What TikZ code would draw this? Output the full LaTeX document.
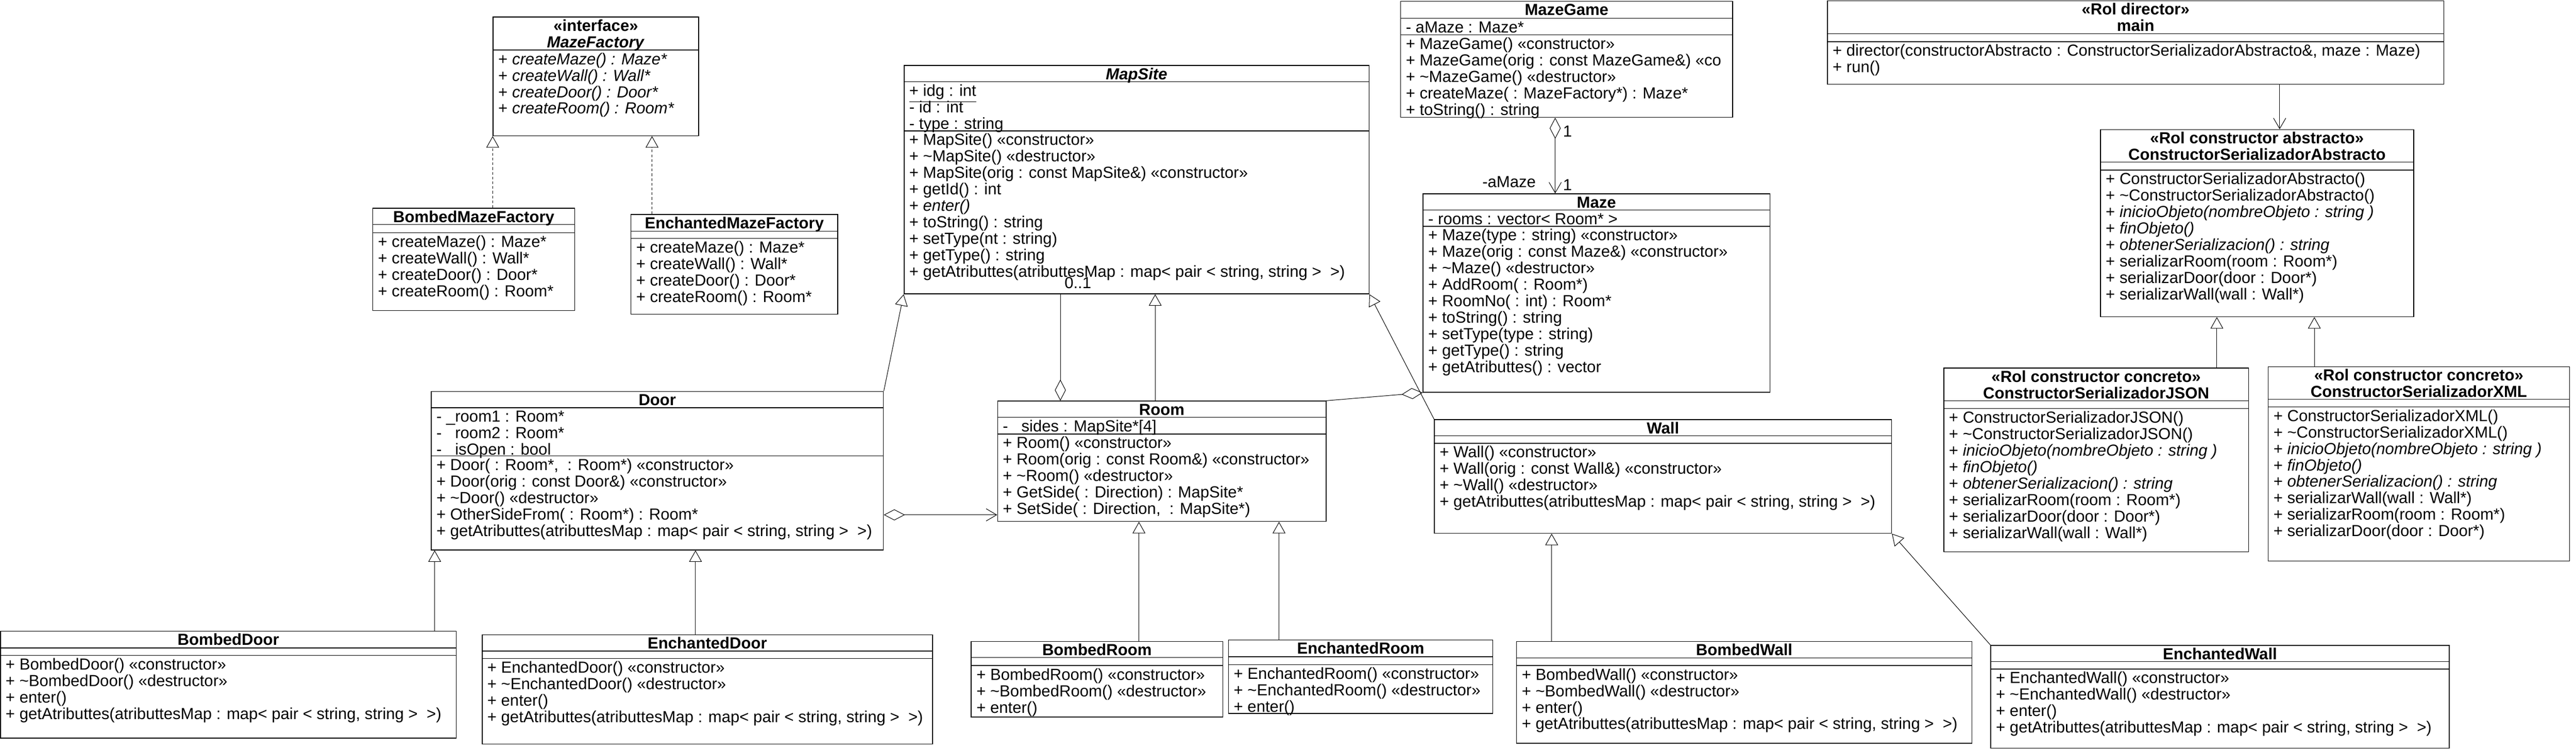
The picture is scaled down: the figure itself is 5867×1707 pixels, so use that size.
\documentclass[tikz,border=0pt]{standalone}
\usepackage{fontspec}
\setmainfont{Liberation Sans}
\usepackage{tikz}
\usetikzlibrary{arrows.meta, fit}
\newcommand{\umlfont}{\fontsize{9.125pt}{9.375pt}\selectfont\lineskiplimit=-\maxdimen}
\newcommand{\rowstrut}{\rule{0pt}{8pt}}

\begin{document}
\begin{tikzpicture}[x=0.25pt, y=-0.25pt, font=\umlfont,
  classbox/.style={draw, line width=0.45pt, inner sep=0pt},
  head/.style={anchor=north, inner sep=0pt, align=center, font=\umlfont\bfseries},
  rows/.style={anchor=north west, inner sep=0pt, xshift=3pt, align=left},
  gen/.style={line width=0.3pt, -{Triangle[open, length=6.5pt, width=7.25pt]}},
  real/.style={gen, dash pattern=on 1.5pt off 1.2pt},
  assoc/.style={line width=0.3pt, {Diamond[open, length=12pt, width=6.25pt]}-{Straight Barb[length=6pt, width=7pt]}},
  aggr/.style={line width=0.3pt, {Diamond[open, length=12pt, width=6.25pt]}-},
  nav/.style={line width=0.3pt, -{Straight Barb[length=6pt, width=7pt]}}]
  \path[use as bounding box, fill=white] (0,0) rectangle (5867,1707);

  % Abstract factory
  \node[classbox, fit={(1123,39) (1591,309)}] (mf) {};
  \draw (mf.west |- 0,114) -- (mf.east |- 0,114);
  \node[head] (mfT) at (mf.north) {\rowstrut«interface»\\\textit{MazeFactory}};
  \node[rows] (mfM) at (mf.west |- 0,114) {\rowstrut+ \textit{createMaze() : Maze*}\\+ \textit{createWall() : Wall*}\\+ \textit{createDoor() : Door*}\\+ \textit{createRoom() : Room*}};

  \node[classbox, fit={(849,474) (1309,707)}] (bmf) {};
  \draw (bmf.west |- 0,511) -- (bmf.east |- 0,511) (bmf.west |- 0,530) -- (bmf.east |- 0,530);
  \node[head] (bmfT) at (bmf.north) {\rowstrut BombedMazeFactory};
  \node[rows] (bmfM) at (bmf.west |- 0,530) {\rowstrut+ createMaze() : Maze*\\+ createWall() : Wall*\\+ createDoor() : Door*\\+ createRoom() : Room*};

  \node[classbox, fit={(1437,488) (1908,715)}] (emf) {};
  \draw (emf.west |- 0,526) -- (emf.east |- 0,526) (emf.west |- 0,543) -- (emf.east |- 0,543);
  \node[head] (emfT) at (emf.north) {\rowstrut EnchantedMazeFactory};
  \node[rows] (emfM) at (emf.west |- 0,543) {\rowstrut+ createMaze() : Maze*\\+ createWall() : Wall*\\+ createDoor() : Door*\\+ createRoom() : Room*};

  % MapSite
  \node[classbox, fit={(2059,149) (3118,669)}] (ms) {};
  \draw (ms.west |- 0,186) -- (ms.east |- 0,186) (ms.west |- 0,298) -- (ms.east |- 0,298);
  \node[head] (msT) at (ms.north) {\rowstrut\textit{MapSite}};
  \node[rows] (msA) at (ms.west |- 0,186) {\rowstrut\underline{+ idg : int}\\- id : int\\- type : string};
  \node[rows] (msM) at (ms.west |- 0,298) {\rowstrut+ MapSite() «constructor»\\+ \textasciitilde MapSite() «destructor»\\+ MapSite(orig : const MapSite\&) «constructor»\\+ getId() : int\\+ \textit{enter()}\\+ toString() : string\\+ setType(nt : string)\\+ getType() : string\\+ getAtributtes(atributtesMap : map< pair < string, string >\ \ >)};

  % MazeGame and Maze
  \node[classbox, fit={(3190,3) (3946,267)}] (mg) {};
  \draw (mg.west |- 0,42) -- (mg.east |- 0,42) (mg.west |- 0,79) -- (mg.east |- 0,79);
  \node[head] (mgT) at (mg.north) {\rowstrut MazeGame};
  \node[rows] (mgA) at (mg.west |- 0,42) {\rowstrut- aMaze : Maze*};
  \node[rows] (mgM) at (mg.west |- 0,79) {\rowstrut+ MazeGame() «constructor»\\+ MazeGame(orig : const MazeGame\&) «co\\+ \textasciitilde MazeGame() «destructor»\\+ createMaze( : MazeFactory*) : Maze*\\+ toString() : string};

  \node[classbox, fit={(3241,441) (4031,893)}] (mz) {};
  \draw (mz.west |- 0,478) -- (mz.east |- 0,478) (mz.west |- 0,515) -- (mz.east |- 0,515);
  \node[head] (mzT) at (mz.north) {\rowstrut Maze};
  \node[rows] (mzA) at (mz.west |- 0,478) {\rowstrut- rooms : vector< Room* >};
  \node[rows] (mzM) at (mz.west |- 0,515) {\rowstrut+ Maze(type : string) «constructor»\\+ Maze(orig : const Maze\&) «constructor»\\+ \textasciitilde Maze() «destructor»\\+ AddRoom( : Room*)\\+ RoomNo( : int) : Room*\\+ toString() : string\\+ setType(type : string)\\+ getType() : string\\+ getAtributtes() : vector};

  % Builder
  \node[classbox, fit={(4162,2) (5566,192)}] (dir) {};
  \draw (dir.west |- 0,77) -- (dir.east |- 0,77) (dir.west |- 0,95) -- (dir.east |- 0,95);
  \node[head] (dirT) at (dir.north) {\rowstrut«Rol director»\\main};
  \node[rows] (dirM) at (dir.west |- 0,95) {\rowstrut+ director(constructorAbstracto : ConstructorSerializadorAbstracto\&, maze : Maze)\\+ run()};

  \node[classbox, fit={(4784,295) (5497,721)}] (csa) {};
  \draw (csa.west |- 0,369) -- (csa.east |- 0,369) (csa.west |- 0,387) -- (csa.east |- 0,387);
  \node[head] (csaT) at (csa.north) {\rowstrut«Rol constructor abstracto»\\ConstructorSerializadorAbstracto};
  \node[rows] (csaM) at (csa.west |- 0,387) {\rowstrut+ ConstructorSerializadorAbstracto()\\+ \textasciitilde ConstructorSerializadorAbstracto()\\+ \textit{inicioObjeto(nombreObjeto : string )}\\+ \textit{finObjeto()}\\+ \textit{obtenerSerializacion() : string}\\+ serializarRoom(room : Room*)\\+ serializarDoor(door : Door*)\\+ serializarWall(wall : Wall*)};

  \node[classbox, fit={(4427,838) (5121,1256)}] (csj) {};
  \draw (csj.west |- 0,912) -- (csj.east |- 0,912) (csj.west |- 0,930) -- (csj.east |- 0,930);
  \node[head] (csjT) at (csj.north) {\rowstrut«Rol constructor concreto»\\ConstructorSerializadorJSON};
  \node[rows] (csjM) at (csj.west |- 0,930) {\rowstrut+ ConstructorSerializadorJSON()\\+ \textasciitilde ConstructorSerializadorJSON()\\+ \textit{inicioObjeto(nombreObjeto : string )}\\+ \textit{finObjeto()}\\+ \textit{obtenerSerializacion() : string}\\+ serializarRoom(room : Room*)\\+ serializarDoor(door : Door*)\\+ serializarWall(wall : Wall*)};

  \node[classbox, fit={(5166,835) (5852,1277)}] (csx) {};
  \draw (csx.west |- 0,909) -- (csx.east |- 0,909) (csx.west |- 0,926) -- (csx.east |- 0,926);
  \node[head] (csxT) at (csx.north) {\rowstrut«Rol constructor concreto»\\ConstructorSerializadorXML};
  \node[rows] (csxM) at (csx.west |- 0,926) {\rowstrut+ ConstructorSerializadorXML()\\+ \textasciitilde ConstructorSerializadorXML()\\+ \textit{inicioObjeto(nombreObjeto : string )}\\+ \textit{finObjeto()}\\+ \textit{obtenerSerializacion() : string}\\+ serializarWall(wall : Wall*)\\+ serializarRoom(room : Room*)\\+ serializarDoor(door : Door*)};

  % Door, Room, Wall
  \node[classbox, fit={(982,891) (2012,1252)}] (door) {};
  \draw (door.west |- 0,928) -- (door.east |- 0,928) (door.west |- 0,1038) -- (door.east |- 0,1038);
  \node[head] (doorT) at (door.north) {\rowstrut Door};
  \node[rows] (doorA) at (door.west |- 0,928) {\rowstrut- \_room1 : Room*\\-\ \ \ room2 : Room*\\-\ \ \ isOpen : bool};
  \node[rows] (doorM) at (door.west |- 0,1038) {\rowstrut+ Door( : Room*,\ \ : Room*) «constructor»\\+ Door(orig : const Door\&) «constructor»\\+ \textasciitilde Door() «destructor»\\+ OtherSideFrom( : Room*) : Room*\\+ getAtributtes(atributtesMap : map< pair < string, string >\ \ >)};

  \node[classbox, fit={(2272,913) (3020,1187)}] (room) {};
  \draw (room.west |- 0,950) -- (room.east |- 0,950) (room.west |- 0,988) -- (room.east |- 0,988);
  \node[head] (roomT) at (room.north) {\rowstrut Room};
  \node[rows] (roomA) at (room.west |- 0,950) {\rowstrut-\ \ \ sides : MapSite*[4]};
  \node[rows] (roomM) at (room.west |- 0,988) {\rowstrut+ Room() «constructor»\\+ Room(orig : const Room\&) «constructor»\\+ \textasciitilde Room() «destructor»\\+ GetSide( : Direction) : MapSite*\\+ SetSide( : Direction,\ \ : MapSite*)};

  \node[classbox, fit={(3267,955) (4308,1214)}] (wall) {};
  \draw (wall.west |- 0,992) -- (wall.east |- 0,992) (wall.west |- 0,1009) -- (wall.east |- 0,1009);
  \node[head] (wallT) at (wall.north) {\rowstrut Wall};
  \node[rows] (wallM) at (wall.west |- 0,1009) {\rowstrut+ Wall() «constructor»\\+ Wall(orig : const Wall\&) «constructor»\\+ \textasciitilde Wall() «destructor»\\+ getAtributtes(atributtesMap : map< pair < string, string >\ \ >)};

  % Concrete products
  \node[classbox, fit={(1,1437) (1039,1680)}] (bdoor) {};
  \draw (bdoor.west |- 0,1475) -- (bdoor.east |- 0,1475) (bdoor.west |- 0,1492) -- (bdoor.east |- 0,1492);
  \node[head] (bdoorT) at (bdoor.north) {\rowstrut BombedDoor};
  \node[rows] (bdoorM) at (bdoor.west |- 0,1492) {\rowstrut+ BombedDoor() «constructor»\\+ \textasciitilde BombedDoor() «destructor»\\+ enter()\\+ getAtributtes(atributtesMap : map< pair < string, string >\ \ >)};

  \node[classbox, fit={(1098,1445) (2124,1694)}] (edoor) {};
  \draw (edoor.west |- 0,1482) -- (edoor.east |- 0,1482) (edoor.west |- 0,1499) -- (edoor.east |- 0,1499);
  \node[head] (edoorT) at (edoor.north) {\rowstrut EnchantedDoor};
  \node[rows] (edoorM) at (edoor.west |- 0,1499) {\rowstrut+ EnchantedDoor() «constructor»\\+ \textasciitilde EnchantedDoor() «destructor»\\+ enter()\\+ getAtributtes(atributtesMap : map< pair < string, string >\ \ >)};

  \node[classbox, fit={(2212,1460) (2785,1632)}] (broom) {};
  \draw (broom.west |- 0,1497) -- (broom.east |- 0,1497) (broom.west |- 0,1515) -- (broom.east |- 0,1515);
  \node[head] (broomT) at (broom.north) {\rowstrut BombedRoom};
  \node[rows] (broomM) at (broom.west |- 0,1515) {\rowstrut+ BombedRoom() «constructor»\\+ \textasciitilde BombedRoom() «destructor»\\+ enter()};

  \node[classbox, fit={(2798,1457) (3400,1624)}] (eroom) {};
  \draw (eroom.west |- 0,1495) -- (eroom.east |- 0,1495) (eroom.west |- 0,1513) -- (eroom.east |- 0,1513);
  \node[head] (eroomT) at (eroom.north) {\rowstrut EnchantedRoom};
  \node[rows] (eroomM) at (eroom.west |- 0,1513) {\rowstrut+ EnchantedRoom() «constructor»\\+ \textasciitilde EnchantedRoom() «destructor»\\+ enter()};

  \node[classbox, fit={(3454,1460) (4491,1692)}] (bwall) {};
  \draw (bwall.west |- 0,1498) -- (bwall.east |- 0,1498) (bwall.west |- 0,1515) -- (bwall.east |- 0,1515);
  \node[head] (bwallT) at (bwall.north) {\rowstrut BombedWall};
  \node[rows] (bwallM) at (bwall.west |- 0,1515) {\rowstrut+ BombedWall() «constructor»\\+ \textasciitilde BombedWall() «destructor»\\+ enter()\\+ getAtributtes(atributtesMap : map< pair < string, string >\ \ >)};

  \node[classbox, fit={(4534,1469) (5578,1703)}] (ewall) {};
  \draw (ewall.west |- 0,1506) -- (ewall.east |- 0,1506) (ewall.west |- 0,1523) -- (ewall.east |- 0,1523);
  \node[head] (ewallT) at (ewall.north) {\rowstrut EnchantedWall};
  \node[rows] (ewallM) at (ewall.west |- 0,1523) {\rowstrut+ EnchantedWall() «constructor»\\+ \textasciitilde EnchantedWall() «destructor»\\+ enter()\\+ getAtributtes(atributtesMap : map< pair < string, string >\ \ >)};

  % Connectors
  \draw[real] (bmf.north -| mf.south west) -- (mf.south west);
  \draw[real] (emf.north -| 1485,0) -- (mf.south -| 1485,0);
  \draw[gen] (door.north east) -- (ms.south west);
  \draw[gen] (room.north -| 2631,0) -- (ms.south -| 2631,0);
  \draw[gen] (wall.north west) -- (ms.south east);
  \draw[line width=0.3pt, -{Diamond[open, length=12pt, width=6.25pt]}] (ms.south -| 2415,0) -- (room.north -| 2415,0);
  \node[anchor=base] (msMult) at (2455,656) {0..1};
  \draw[aggr] (mz.south west) -- (room.north east);
  \draw[assoc] (door.east |- 0,1172) -- (room.west |- 0,1172);
  \draw[assoc] (mg.south -| 3542,0) -- (mz.north -| 3542,0);
  \node[anchor=base] (mgMult) at (3570,311) {1};
  \node[anchor=base east] (mzRole) at (3512,427) {-aMaze};
  \node[anchor=base] (mzMult) at (3570,433) {1};
  \draw[nav] (dir.south -| 5192,0) -- (csa.north -| 5192,0);
  \draw[gen] (csj.north -| 5049,0) -- (csa.south -| 5049,0);
  \draw[gen] (csx.north -| 5271,0) -- (csa.south -| 5271,0);
  \draw[gen] (bdoor.north -| 990,0) -- (door.south -| 990,0);
  \draw[gen] (edoor.north -| 1584,0) -- (door.south -| 1584,0);
  \draw[gen] (broom.north -| 2594,0) -- (room.south -| 2594,0);
  \draw[gen] (eroom.north -| 2913,0) -- (room.south -| 2913,0);
  \draw[gen] (bwall.north -| 3534,0) -- (wall.south -| 3534,0);
  \draw[gen] (ewall.north west) -- (wall.south east);
\end{tikzpicture}
\end{document}
